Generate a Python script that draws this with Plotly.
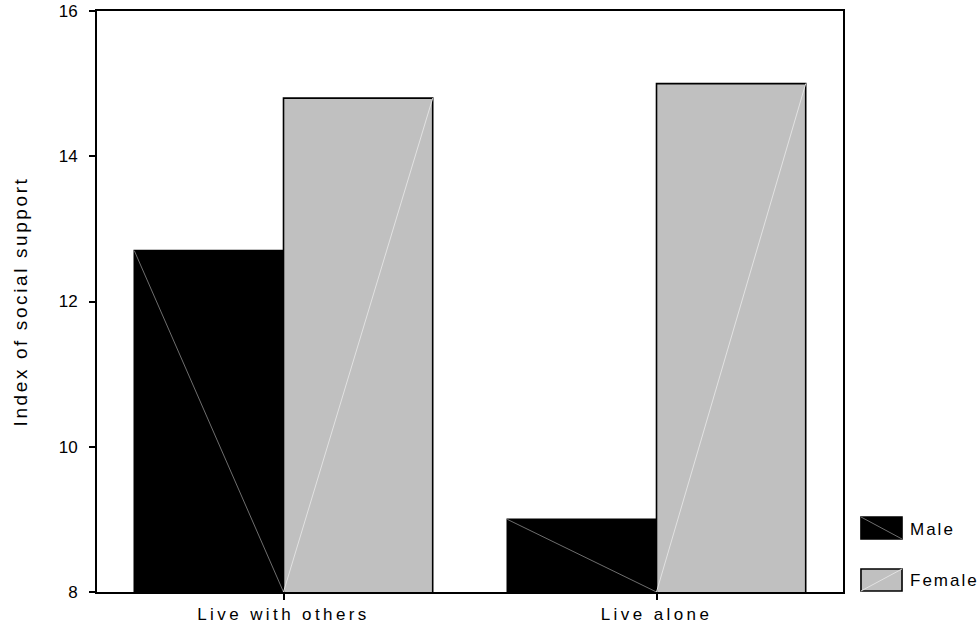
import plotly.graph_objects as go

categories = ["Live with others", "Live alone"]
series_names = ["Male", "Female"]
male_values = [12.7, 9.0]
female_values = [14.8, 15.0]
y_ticks = [8, 10, 12, 14, 16]

FONT = "Liberation Sans, Arial, sans-serif"
Y_MIN, Y_MAX = 8, 16
BAR_W = 0.4
COLORS = {"Male": "#000000", "Female": "#c0c0c0"}
DIAG = {"Male": "#6e6e6e", "Female": "#e2e2e2"}


def spaced(t, s=3):
    return f'<span style="letter-spacing:{s}px">{t}</span>'


xs = list(range(len(categories)))
fig = go.Figure()
for name, vals in zip(series_names, [male_values, female_values]):
    fig.add_trace(go.Bar(
        x=xs, y=vals, name=name,
        marker=dict(color=COLORS[name], line=dict(color="#000000", width=1.6)),
        showlegend=False, hoverinfo="y",
    ))

# faint diagonal artifacts inside the bars
for i, (m, f) in enumerate(zip(male_values, female_values)):
    fig.add_trace(go.Scatter(
        x=[i - BAR_W, i], y=[m, Y_MIN], mode="lines",
        line=dict(color=DIAG["Male"], width=1), showlegend=False, hoverinfo="skip"))
    fig.add_trace(go.Scatter(
        x=[i, i + BAR_W], y=[Y_MIN, f], mode="lines",
        line=dict(color=DIAG["Female"], width=1), showlegend=False, hoverinfo="skip"))

fig.update_layout(
    width=980, height=623,
    margin=dict(l=97, r=137, t=11, b=31, autoexpand=False),
    paper_bgcolor="white", plot_bgcolor="white",
    barmode="group", bargap=0.2, bargroupgap=0,
    font=dict(family=FONT, size=17, color="#000000"),
)
fig.update_xaxes(
    range=[-0.5, 1.5], tickvals=xs, ticktext=[spaced(c, 3.4) for c in categories],
    ticks="outside", ticklen=6, tickwidth=1.5, tickcolor="#000",
    showline=True, linecolor="#000", linewidth=2, mirror=True,
    showgrid=False, zeroline=False, tickfont=dict(size=17), fixedrange=True,
    automargin=False,
)
fig.update_yaxes(
    range=[Y_MIN, Y_MAX], tickvals=y_ticks, ticktext=[str(t) for t in y_ticks],
    ticks="outside", ticklen=6, tickwidth=1.5, tickcolor="#000",
    showline=True, linecolor="#000", linewidth=2, mirror=True,
    showgrid=False, zeroline=False, tickfont=dict(size=17),
    ticklabelstandoff=8, automargin=False, fixedrange=True,
    title=dict(text=spaced("Index of social support", 2.6), font=dict(size=19), standoff=26),
)

# custom legend
legend_rows = [(0.0912, 0.1291, 0.108), (0.0017, 0.0396, 0.019)]
for name, (y0, y1, yt) in zip(series_names, legend_rows):
    fig.add_shape(type="rect", xref="paper", yref="paper", x0=1.0241, x1=1.0791, y0=y0, y1=y1,
                  fillcolor=COLORS[name], line=dict(color="#000", width=1.6))
    if name == "Male":
        fig.add_shape(type="line", xref="paper", yref="paper", x0=1.0241, x1=1.0791, y0=y1, y1=y0,
                      line=dict(color=DIAG[name], width=1))
    else:
        fig.add_shape(type="line", xref="paper", yref="paper", x0=1.0241, x1=1.0791, y0=y0, y1=y1,
                      line=dict(color=DIAG[name], width=1))
    fig.add_annotation(xref="paper", yref="paper", x=1.0875, y=yt, xanchor="left", yanchor="middle",
                       text=spaced(name, 2.0), showarrow=False, font=dict(size=17))

fig.write_html("out.html", config={"displayModeBar": False},
               post_script="document.body.style.margin='0';")
